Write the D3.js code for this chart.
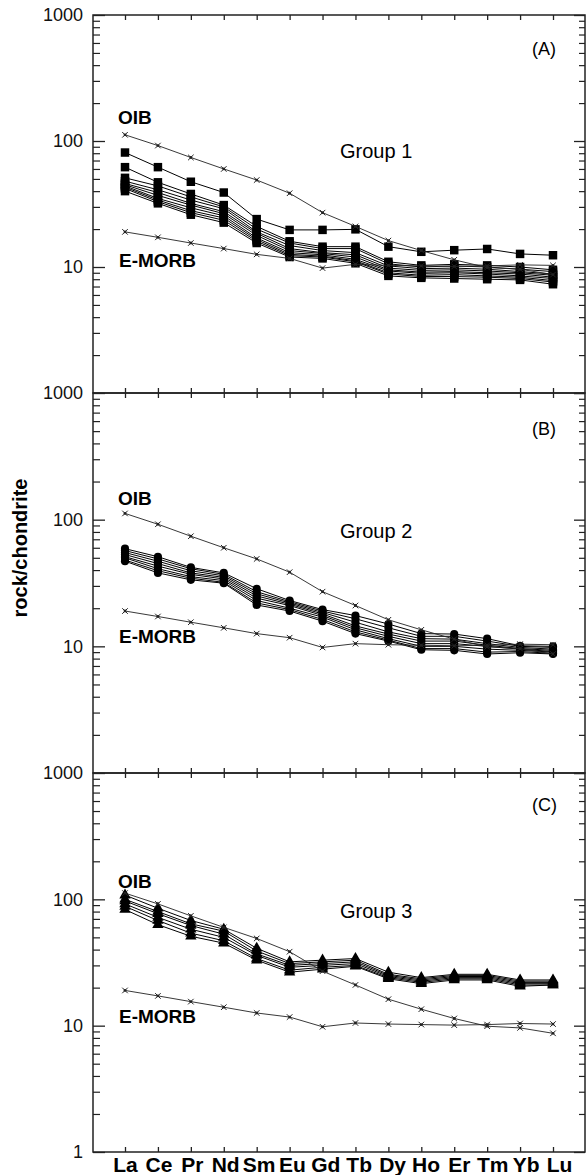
<!DOCTYPE html>
<html>
<head>
<meta charset="utf-8">
<script src="https://cdn.jsdelivr.net/npm/d3@7"></script>
<style>
  html, body { margin: 0; padding: 0; background: #fff; }
  svg { display: block; font-family: "Liberation Sans", Arial, Helvetica, sans-serif; }
</style>
</head>
<body>
<svg id="chart" width="587" height="1175"></svg>
<script>
// Rare earth elements, chondrite-normalised
const categories = ["La","Ce","Pr","Nd","Sm","Eu","Gd","Tb","Dy","Ho","Er","Tm","Yb","Lu"];

// Reference patterns
const oib   = [112, 92, 74, 60, 49, 38.5, 27, 21, 16.2, 13.5, 11.4, 9.9, 9.6, 8.7];
const emorb = [19, 17.2, 15.5, 14, 12.6, 11.7, 9.8, 10.5, 10.3, 10.2, 10.1, 10.2, 10.4, 10.3];

// Group 1 samples (squares)
const group1 = [
  [81, 62, 47.5, 39, 24, 19.7, 19.7, 19.9, 14.5, 13.2, 13.6, 13.9, 12.7, 12.4],
  [62, 47, 38, 31, 21, 16, 14.5, 14.5, 11, 10.3, 10.5, 10.3, 10, 9.5],
  [51, 44, 36, 30, 20, 15.5, 14, 14, 10.6, 10, 10.2, 10, 9.6, 9.2],
  [48, 41, 34, 29, 19, 14.8, 13.5, 13, 10.2, 9.7, 9.8, 9.6, 9.2, 8.8],
  [46, 39, 32, 27.5, 18.5, 14, 13, 12.5, 9.8, 9.4, 9.5, 9.3, 9, 8.6],
  [45, 37, 31, 26.5, 17.8, 13.5, 12.8, 12, 9.5, 9.1, 9.2, 9, 8.8, 8.3],
  [44, 35, 29.5, 25.5, 17, 13, 12.5, 11.5, 9.3, 8.9, 9, 8.8, 8.5, 8.1],
  [43, 34, 28, 24.5, 16.5, 12.6, 12.2, 11.2, 9, 8.6, 8.7, 8.5, 8.3, 7.8],
  [42, 33, 27, 23.5, 16, 12.3, 12, 11, 8.8, 8.4, 8.4, 8.3, 8.1, 7.6],
  [40, 32, 26, 22.5, 15.5, 12, 11.7, 10.7, 8.5, 8.2, 8.1, 8.0, 7.9, 7.3]
];

// Group 2 samples (circles)
const group2 = [
  [59, 51, 42, 38, 28.5, 23, 19.5, 17.5, 15, 12.6, 12.5, 11.5, 10.1, 10],
  [57, 49, 41, 37, 27, 22.5, 19, 16.5, 14, 12, 12, 11, 10, 9.8],
  [55, 47, 39.5, 36, 26, 22, 18.5, 15.5, 13, 11.5, 11.4, 10.5, 9.8, 9.5],
  [53, 45, 38, 35, 25, 21.5, 18, 14.5, 12.5, 11, 11, 10.2, 9.6, 9.3],
  [51, 43, 37, 34, 24, 21, 17.5, 14, 12, 10.5, 10.5, 10, 9.5, 9.1],
  [50, 41, 35.5, 33, 23, 20, 17, 13.5, 11.5, 10, 10, 9.5, 9.3, 9],
  [48, 39.5, 34.5, 32, 22, 19.5, 16.3, 13, 11.2, 9.6, 9.6, 9.0, 9.1, 8.8],
  [47, 38, 33.5, 31.5, 21.2, 19, 15.8, 12.6, 11, 9.4, 9.3, 8.7, 8.9, 8.7]
];

// Group 3 samples (triangles)
const group3 = [
  [108, 85, 68, 58, 41, 32, 33, 34, 26.5, 24, 25.5, 25.5, 23, 23],
  [100, 80, 64, 56, 39, 31, 32, 33, 25.5, 23.5, 25, 25, 22.5, 22.5],
  [97, 77, 62, 53, 37, 30, 31, 32, 25, 23, 24.5, 24.5, 22, 22],
  [92, 72, 58, 50, 36, 29, 30, 31, 24.5, 22.5, 24, 24, 21.5, 21.5],
  [88, 68, 54, 47, 34, 27.5, 29, 30, 24, 22, 23.5, 23.5, 21, 21],
  [83, 63, 51, 45, 33, 26.5, 28, 29.5, 23.5, 21.5, 23, 23, 20.5, 21]
];

const groupNames  = ["Group 1", "Group 2", "Group 3"];
const panelTags   = ["(A)", "(B)", "(C)"];
const yTickValues = [1, 10, 100, 1000];
const yAxisTitle  = "rock/chondrite";

const svg = d3.select("#chart");
const left = 93, right = 585;
const FONT = "'Liberation Sans', Arial, sans-serif";

// label offsets are baselines measured from each panel's top edge
const panels = [
  { top: 15,  bottom: 393,  data: group1, symbol: d3.symbolSquare,   size: 72, oibY: 109, emY: 252, grpY: 143, tagY: 40 },
  { top: 393, bottom: 773,  data: group2, symbol: d3.symbolCircle,   size: 52, oibY: 112, emY: 250, grpY: 145, tagY: 42 },
  { top: 773, bottom: 1152, data: group3, symbol: d3.symbolTriangle, size: 56, oibY: 115, emY: 250, grpY: 145, tagY: 38 }
];

const x = d3.scalePoint().domain(categories).range([125, 553]);
// element names along the bottom are set slightly wider than the tick spacing
const xLabel = d3.scalePoint().domain(categories).range([125, 559]);

const minorValues = [];
[1, 10, 100].forEach(d => { for (let k = 2; k <= 9; k++) minorValues.push(d * k); });

function stripDomain(g) { g.select(".domain").remove(); }

panels.forEach((p, i) => {
  const y = d3.scaleLog().domain([1, 1000]).range([p.bottom, p.top]);
  const g = svg.append("g");

  // frame
  g.append("rect")
    .attr("x", left).attr("y", p.top)
    .attr("width", right - left).attr("height", p.bottom - p.top)
    .attr("fill", "none").attr("stroke", "#222").attr("stroke-width", 1.5);

  // left axis: labelled decades
  const majors = i === 2 ? yTickValues : yTickValues.filter(v => v > 1);
  g.append("g").attr("transform", `translate(${left},0)`)
    .call(d3.axisLeft(y).tickValues(majors).tickSizeInner(-12).tickSizeOuter(0)
      .tickPadding(10).tickFormat(d3.format("d")))
    .call(stripDomain)
    .call(a => a.selectAll("line").attr("stroke", "#222").attr("stroke-width", 1.3))
    .call(a => a.selectAll("text").attr("font-size", 18).attr("fill", "#111")
      .attr("font-family", FONT));

  g.append("g").attr("transform", `translate(${left},0)`)
    .call(d3.axisLeft(y).tickValues(minorValues).tickSizeInner(-7).tickSizeOuter(0).tickFormat(""))
    .call(stripDomain)
    .call(a => a.selectAll("line").attr("stroke", "#222").attr("stroke-width", 1.2));

  // right axis
  g.append("g").attr("transform", `translate(${right},0)`)
    .call(d3.axisRight(y).tickValues(yTickValues).tickSizeInner(-11).tickSizeOuter(0).tickFormat(""))
    .call(stripDomain)
    .call(a => a.selectAll("line").attr("stroke", "#222").attr("stroke-width", 1.3));
  g.append("g").attr("transform", `translate(${right},0)`)
    .call(d3.axisRight(y).tickValues(minorValues).tickSizeInner(-6).tickSizeOuter(0).tickFormat(""))
    .call(stripDomain)
    .call(a => a.selectAll("line").attr("stroke", "#222").attr("stroke-width", 1.2));

  // top and bottom element ticks
  g.append("g").attr("transform", `translate(0,${p.top})`)
    .call(d3.axisTop(x).tickSizeInner(-5).tickSizeOuter(0).tickFormat(""))
    .call(stripDomain)
    .call(a => a.selectAll("line").attr("stroke", "#222").attr("stroke-width", 1.3));

  g.append("g").attr("transform", `translate(0,${p.bottom})`)
    .call(d3.axisBottom(x).tickSizeInner(-5).tickSizeOuter(0).tickFormat(""))
    .call(stripDomain)
    .call(a => a.selectAll("line").attr("stroke", "#222").attr("stroke-width", 1.3));

  if (i === 2) {
    g.append("g").attr("transform", `translate(0,${p.bottom})`)
      .call(d3.axisBottom(xLabel).tickSize(0).tickPadding(5))
      .call(stripDomain)
      .call(a => a.selectAll("text")
        .attr("font-size", 21).attr("font-weight", "bold").attr("fill", "#000")
        .attr("font-family", FONT));
  }

  const line = d3.line().x((d, j) => x(categories[j])).y(d => y(d));

  // sample patterns
  const series = g.append("g");
  series.selectAll("path.sample").data(p.data).join("path")
    .attr("class", "sample")
    .attr("d", line).attr("fill", "none")
    .attr("stroke", "#000").attr("stroke-width", 1);

  const sym = d3.symbol().type(p.symbol).size(p.size);
  p.data.forEach(row => {
    series.append("g").selectAll("path").data(row).join("path")
      .attr("d", sym)
      .attr("transform", (d, j) => `translate(${x(categories[j])},${y(d)})`)
      .attr("fill", "#000");
  });

  // OIB and E-MORB reference patterns
  const refs = g.append("g");
  [oib, emorb].forEach(row => {
    refs.append("path").datum(row).attr("d", line).attr("fill", "none")
      .attr("stroke", "#222").attr("stroke-width", 0.9);
    const marks = refs.append("g").selectAll("g").data(row).join("g")
      .attr("transform", (d, j) => `translate(${x(categories[j])},${y(d)})`);
    marks.append("path").attr("d", d3.symbol().type(d3.symbolX).size(22))
      .attr("fill", "none").attr("stroke", "#222").attr("stroke-width", 1);
    marks.append("circle").attr("r", 1.4).attr("fill", "#222");
  });

  // labels
  g.append("text").attr("x", 118).attr("y", p.top + p.oibY)
    .attr("font-size", 19).attr("font-weight", "bold").text("OIB");
  g.append("text").attr("x", 119).attr("y", p.top + p.emY)
    .attr("font-size", 19).attr("font-weight", "bold").text("E-MORB");
  g.append("text").attr("x", 340).attr("y", p.top + p.grpY)
    .attr("font-size", 20).text(groupNames[i]);
  g.append("text").attr("x", 532).attr("y", p.top + p.tagY)
    .attr("font-size", 18).text(panelTags[i]);
});

// shared y-axis title
svg.append("text")
  .attr("transform", "translate(27,548) rotate(-90)")
  .attr("text-anchor", "middle")
  .attr("font-size", 20).attr("font-weight", "bold")
  .text(yAxisTitle);
</script>
</body>
</html>
